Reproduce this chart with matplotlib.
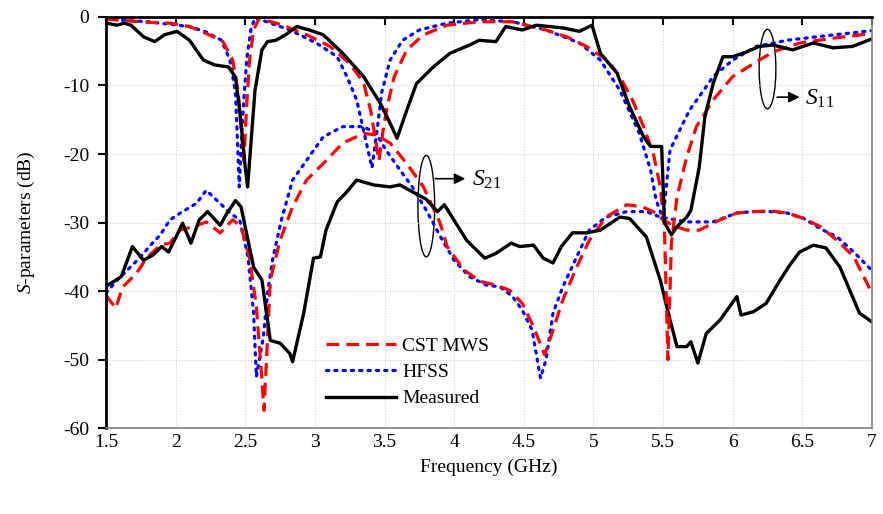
import numpy as np
import matplotlib
matplotlib.use('Agg')
import matplotlib.pyplot as plt
from matplotlib.patches import Ellipse

plt.rcParams['font.family'] = 'Liberation Serif'
plt.rcParams['mathtext.fontset'] = 'custom'
plt.rcParams['mathtext.rm'] = 'Liberation Serif'
plt.rcParams['mathtext.it'] = 'Liberation Serif:italic'
plt.rcParams['axes.unicode_minus'] = False

# --- S11 curves (freq GHz, dB) ---
s11_cst_f = [1.5, 1.62, 1.82, 1.96, 2.1, 2.22, 2.34, 2.41, 2.45, 2.47, 2.49, 2.51, 2.53, 2.56, 2.6,
             2.77, 2.94, 3.11, 3.25, 3.35, 3.4, 3.44, 3.46, 3.49, 3.52, 3.57, 3.66, 3.78, 3.95, 4.18,
             4.42, 4.66, 4.81, 4.95, 5.1, 5.19, 5.28, 5.36, 5.43, 5.48, 5.51, 5.535, 5.56, 5.6, 5.67,
             5.74, 5.86, 6.0, 6.15, 6.29, 6.48, 6.72, 7.0]
s11_cst = [-0.3, -0.5, -0.8, -0.9, -1.4, -2.4, -3.6, -6.3, -11.0, -16.0, -21.0, -13.0, -6.5, -1.9, -0.2,
           -1.2, -2.6, -4.3, -6.8, -9.6, -13.6, -18.4, -21.0, -16.5, -13.0, -8.7, -4.8, -2.6, -1.2, -0.7,
           -0.7, -1.9, -2.9, -4.3, -6.3, -8.7, -12.1, -16.0, -19.9, -24.8, -30.6, -50.0, -33.0, -26.3, -20.4,
           -16.0, -12.1, -8.7, -6.8, -5.1, -3.8, -3.1, -2.4]

s11_hfss_f = [1.5, 1.8, 2.1, 2.22, 2.33, 2.39, 2.43, 2.445, 2.457, 2.48, 2.51, 2.54, 2.57, 2.82,
              3.01, 3.16, 3.23, 3.3, 3.37, 3.41, 3.45, 3.48, 3.54, 3.63, 3.75, 3.95, 4.18, 4.42, 4.66,
              4.9, 5.05, 5.19, 5.33, 5.41, 5.45, 5.5, 5.55, 5.62, 5.69, 5.76, 5.86, 6.0, 6.17, 6.39,
              6.6, 7.0]
s11_hfss = [-0.3, -0.7, -1.4, -2.2, -3.4, -6.3, -11.0, -18.4, -24.8, -15.0, -6.3, -1.9, -0.1, -1.9,
            -3.8, -5.8, -8.7, -12.1, -18.4, -22.0, -16.0, -11.0, -6.3, -3.4, -1.9, -0.9, -0.4, -0.7, -1.9,
            -3.8, -6.3, -10.7, -17.0, -22.3, -26.7, -29.5, -19.4, -16.5, -13.6, -11.6, -8.7, -6.3, -4.3, -3.4,
            -2.9, -2.0]

s11_meas_f = [1.5, 1.58, 1.63, 1.68, 1.77, 1.85, 1.92, 2.01, 2.1, 2.2, 2.28, 2.38, 2.43, 2.46, 2.5,
              2.517, 2.57, 2.62, 2.66, 2.72, 2.79, 2.87, 2.96, 3.06, 3.2, 3.35, 3.47, 3.54, 3.59, 3.66,
              3.73, 3.85, 3.97, 4.11, 4.18, 4.3, 4.37, 4.49, 4.59, 4.78, 4.9, 4.99, 5.05, 5.17, 5.26,
              5.36, 5.41, 5.49, 5.51, 5.56, 5.6, 5.67, 5.7, 5.76, 5.8, 5.86, 5.93, 6.0, 6.1, 6.19,
              6.29, 6.43, 6.58, 6.72, 6.86, 7.0]
s11_meas = [-0.9, -1.2, -0.9, -1.2, -2.9, -3.6, -2.6, -2.1, -3.4, -6.3, -7.0, -7.3, -8.8, -13.6, -21.9,
            -24.8, -10.7, -4.8, -3.6, -3.4, -2.6, -1.4, -1.9, -2.6, -5.3, -8.7, -12.6, -15.5, -17.7, -13.6,
            -9.7, -7.3, -5.3, -4.1, -3.4, -3.6, -1.4, -1.9, -1.2, -1.6, -2.1, -1.2, -5.3, -8.2, -13.1,
            -17.5, -18.9, -18.9, -30.0, -31.8, -30.6, -29.2, -28.2, -21.9, -14.6, -9.7, -5.8, -5.8, -5.1, -4.3,
            -4.1, -4.8, -3.8, -4.5, -4.3, -3.2]

# --- S21 curves ---
s21_cst_f = [1.5, 1.57, 1.62, 1.72, 1.79, 1.89, 1.96, 2.03, 2.13, 2.22, 2.32, 2.41, 2.47, 2.53, 2.58,
             2.62, 2.635, 2.68, 2.75, 2.84, 2.94, 3.06, 3.2, 3.35, 3.44, 3.54, 3.66, 3.78, 3.9, 3.95,
             4.07, 4.19, 4.3, 4.4, 4.49, 4.57, 4.65, 4.71, 4.78, 4.88, 4.97, 5.09, 5.24, 5.35, 5.45,
             5.5, 5.58, 5.67, 5.76, 5.91, 6.03, 6.15, 6.27, 6.39, 6.51, 6.63, 6.75, 6.87, 7.0]
s21_cst = [-40.6, -42.5, -39.4, -37.4, -35.2, -33.3, -33.0, -31.1, -30.6, -29.9, -31.5, -29.6, -30.6, -35.0, -42.3,
           -53.0, -57.4, -38.4, -32.6, -27.7, -23.8, -21.4, -18.4, -17.0, -17.2, -18.4, -21.4, -24.8, -30.1, -33.5,
           -36.9, -38.6, -39.1, -39.9, -41.8, -45.2, -49.3, -45.7, -41.3, -36.5, -32.6, -29.2, -27.4, -27.7, -28.6,
           -29.6, -30.5, -31.1, -31.1, -29.6, -28.6, -28.4, -28.3, -28.6, -29.4, -30.6, -32.6, -35.0, -40.3]

s21_hfss_f = [1.5, 1.58, 1.67, 1.74, 1.82, 1.89, 1.96, 2.05, 2.15, 2.22, 2.32, 2.39, 2.46, 2.52, 2.56,
              2.58, 2.63, 2.66, 2.7, 2.76, 2.84, 3.06, 3.2, 3.35, 3.44, 3.51, 3.61, 3.7, 3.8, 3.9,
              4.0, 4.11, 4.23, 4.33, 4.42, 4.49, 4.56, 4.62, 4.66, 4.71, 4.78, 4.88, 4.97, 5.09, 5.24,
              5.38, 5.48, 5.67, 5.86, 6.03, 6.15, 6.27, 6.39, 6.51, 6.63, 6.75, 6.87, 7.0]
s21_hfss = [-40.3, -38.4, -36.6, -35.2, -33.3, -31.8, -29.6, -28.4, -27.2, -25.3, -27.2, -28.6, -29.6, -35.0, -43.2,
            -52.5, -46.7, -40.3, -35.0, -29.6, -23.8, -17.5, -16.0, -16.0, -17.0, -19.4, -22.3, -24.8, -28.2, -32.0,
            -35.5, -37.9, -39.1, -39.4, -40.8, -42.8, -45.7, -52.7, -50.0, -43.2, -39.4, -35.0, -31.1, -29.2, -28.4,
            -28.4, -29.2, -29.9, -29.9, -28.6, -28.4, -28.4, -28.6, -29.4, -30.9, -32.1, -34.3, -37.0]

s21_meas_f = [1.5, 1.61, 1.69, 1.77, 1.84, 1.9, 1.95, 2.01, 2.05, 2.11, 2.17, 2.23, 2.32, 2.37, 2.43,
              2.47, 2.52, 2.56, 2.62, 2.68, 2.75, 2.82, 2.84, 2.92, 2.99, 3.04, 3.08, 3.16, 3.23, 3.3,
              3.42, 3.54, 3.61, 3.7, 3.8, 3.88, 3.93, 4.09, 4.22, 4.3, 4.41, 4.47, 4.57, 4.64, 4.71,
              4.77, 4.85, 4.95, 5.05, 5.19, 5.26, 5.38, 5.48, 5.55, 5.6, 5.67, 5.7, 5.75, 5.81, 5.91,
              6.03, 6.06, 6.15, 6.24, 6.34, 6.41, 6.48, 6.58, 6.67, 6.77, 6.91, 7.0]
s21_meas = [-39.3, -37.9, -33.5, -35.5, -34.7, -33.5, -34.3, -31.8, -30.1, -33.0, -29.6, -28.4, -30.4, -28.6, -26.8,
            -27.7, -32.6, -36.5, -38.4, -47.2, -47.6, -49.1, -50.3, -43.2, -35.2, -35.0, -31.1, -27.0, -25.5, -23.8,
            -24.5, -24.8, -24.5, -25.5, -26.6, -28.4, -27.4, -32.6, -35.2, -34.5, -33.0, -33.5, -33.3, -35.2, -35.9,
            -33.5, -31.5, -31.5, -31.1, -29.2, -29.4, -32.1, -38.4, -44.2, -48.1, -48.1, -47.4, -50.5, -46.2, -44.2,
            -40.8, -43.5, -43.0, -41.8, -38.4, -36.2, -34.3, -33.3, -33.7, -36.5, -43.2, -44.5]

x_ticks = [1.5, 2, 2.5, 3, 3.5, 4, 4.5, 5, 5.5, 6, 6.5, 7]
x_tick_labels = ['1.5', '2', '2.5', '3', '3.5', '4', '4.5', '5', '5.5', '6', '6.5', '7']
y_ticks = [-60, -50, -40, -30, -20, -10, 0]

fig = plt.figure(figsize=(8.83, 5.14), dpi=100)
ax = fig.add_axes([0.12, 0.167, 0.8675, 0.8])

red_kw = dict(color='#ff0000', lw=2.3, dashes=(4.0, 2.2))
blue_kw = dict(color='#0000ff', lw=2.3, dashes=(0.7, 1.9), dash_capstyle='round')
black_kw = dict(color='black', lw=2.4, solid_joinstyle='round')

ax.plot(s21_hfss_f, s21_hfss, **blue_kw)
ax.plot(s21_cst_f, s21_cst, **red_kw)
ax.plot(s21_meas_f, s21_meas, **black_kw)
ax.plot(s11_hfss_f, s11_hfss, label='HFSS', **blue_kw)
ax.plot(s11_cst_f, s11_cst, label='CST MWS', **red_kw)
ax.plot(s11_meas_f, s11_meas, label='Measured', **black_kw)

ax.set_xlim(1.5, 7)
ax.set_ylim(-60, 0)
ax.set_xticks(x_ticks)
ax.set_xticklabels(x_tick_labels)
ax.set_yticks(y_ticks)
ax.set_yticklabels([str(v) for v in y_ticks])
ax.grid(True, color='#d0d0d0', ls=(0, (1, 1.5)), lw=0.8)

ax.tick_params(axis='x', top=True, bottom=False, labeltop=False, labelbottom=True,
               direction='in', length=6, width=1.5, labelsize=14, pad=4)
ax.tick_params(axis='y', direction='out', length=6, width=1.5, labelsize=14, pad=6)
for side in ['top', 'left']:
    ax.spines[side].set_linewidth(2)
    ax.spines[side].set_color('black')
for side in ['bottom', 'right']:
    ax.spines[side].set_linewidth(1.2)
    ax.spines[side].set_color('#7f7f7f')

ax.set_xlabel('Frequency (GHz)', fontsize=14, labelpad=6)
ax.set_ylabel('$S$-parameters (dB)', fontsize=14, labelpad=19)

handles, labels = ax.get_legend_handles_labels()
order = [1, 0, 2]
ax.legend([handles[i] for i in order], [labels[i] for i in order],
          loc='upper left', bbox_to_anchor=(0.275, 0.245), frameon=False,
          fontsize=14, handlelength=3.6, handletextpad=0.3, labelspacing=0.45, borderpad=0)

# S21 / S11 annotations
ax.add_patch(Ellipse((3.8, -27.6), 0.12, 14.8, fill=False, ec='black', lw=1))
ax.annotate('', xy=(4.1, -23.6), xytext=(3.845, -23.6),
            arrowprops=dict(arrowstyle='-|>', color='black', lw=1.2, mutation_scale=16))
ax.text(4.13, -23.8, '$S_{\\mathrm{21}}$', fontsize=17, va='center', ha='left')

ax.add_patch(Ellipse((6.25, -7.6), 0.12, 11.6, fill=False, ec='black', lw=1))
ax.annotate('', xy=(6.5, -11.7), xytext=(6.3, -11.7),
            arrowprops=dict(arrowstyle='-|>', color='black', lw=1.2, mutation_scale=16))
ax.text(6.52, -11.9, '$S_{\\mathrm{11}}$', fontsize=17, va='center', ha='left')

fig.savefig('out.png', dpi=100)
